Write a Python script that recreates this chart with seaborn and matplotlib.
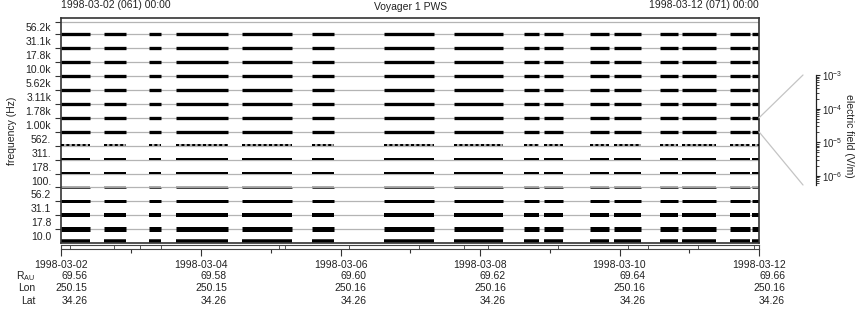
import numpy as np
import pandas as pd
import matplotlib
matplotlib.use("Agg")
import matplotlib.pyplot as plt
import seaborn as sns
from matplotlib.patches import ConnectionPatch
from matplotlib.transforms import blended_transform_factory, offset_copy
from matplotlib.ticker import FixedLocator, NullFormatter, LogLocator, FuncFormatter

# ---------------- data ----------------
freq_labels = ['10.0', '17.8', '31.1', '56.2', '100.', '178.', '311.', '562.',
               '1.00k', '1.78k', '3.11k', '5.62k', '10.0k', '17.8k', '31.1k', '56.2k']
# relative signal level per channel (bottom -> top), drawn as bar thickness
channel_level = [3.5, 5.0, 4.0, 3.0, 2.0, 2.0, 2.0, 2.0,
                 3.3, 3.3, 3.3, 3.3, 3.3, 3.3, 3.3, 3.3]
# data coverage intervals, days after 1998-03-02 00:00
seg_start = [0.0, 0.607, 1.248, 1.636, 2.582, 3.587, 4.620, 5.624,
             6.628, 6.920, 7.575, 7.924, 8.584, 8.899, 9.584, 9.904]
seg_end = [0.41, 0.928, 1.420, 2.392, 3.300, 3.913, 5.337, 6.323,
           6.839, 7.184, 7.848, 8.303, 8.838, 9.383, 9.871, 10.0]
# marks in the strip below the panel (days)
gap_marks = [0.125, 0.75, 1.13, 1.425, 3.113, 3.204, 4.122, 5.126,
             5.772, 6.116, 7.12, 8.125, 8.412, 9.129, 9.933]
tick_days = [0, 2, 4, 6, 8, 10]
tick_dates = ['1998-03-02', '1998-03-04', '1998-03-06', '1998-03-08', '1998-03-10', '1998-03-12']
r_au = ['69.56', '69.58', '69.60', '69.62', '69.64', '69.66']
lon = ['250.15', '250.15', '250.16', '250.16', '250.16', '250.16']
lat = ['34.26', '34.26', '34.26', '34.26', '34.26', '34.26']
cbar_range = [10**-6.27, 1e-3]

# ---------------- style ----------------
sns.set_theme(style="white")
plt.rcParams['font.family'] = ['Liberation Sans', 'DejaVu Sans']
plt.rcParams['mathtext.fontset'] = 'custom'
plt.rcParams['mathtext.rm'] = 'Liberation Sans'
plt.rcParams['mathtext.it'] = 'Liberation Sans'
FS = 7.5
TXT = '#222222'
W, H = 860, 320
fig = plt.figure(figsize=(W / 100, H / 100), dpi=100)

def box(x0, y0, x1, y1):
    return [x0 / W, 1 - y1 / H, (x1 - x0) / W, (y1 - y0) / H]

ax = fig.add_axes(box(61.5, 18.3, 759, 243.2))
ax.set_xlim(0, 10)
ax.set_ylim(0, 16.15)
px_per_unit = 13.93

# gray baselines
base_y = list(range(1, 16)) + [15.86]
ax.hlines(base_y, 0, 10, color='#b4b4b4', lw=0.9, zorder=1)

# bars
rows = []
for i, lev in enumerate(channel_level):
    for s, e in zip(seg_start, seg_end):
        rows.append(dict(ch=i, start=s, end=e, level=lev))
df = pd.DataFrame(rows)
for i, g in df.groupby('ch'):
    lev = g['level'].iloc[0]
    half = lev / 2 / px_per_unit
    yc = max(i + 0.02, half)
    lw = lev * 0.72
    n = len(g)
    if freq_labels[i] == '562.':
        ax.hlines([yc] * n, g['start'], g['end'], color='#aaaaaa', lw=lw,
                  capstyle='butt', zorder=2)
        ax.hlines([yc] * n, g['start'], g['end'], color='black', lw=lw,
                  capstyle='butt', linestyles=(0, (1.5, 1.2)), zorder=3)
    elif freq_labels[i] == '100.':
        ax.hlines([yc + 0.05] * n, g['start'], g['end'], color='#9a9a9a', lw=lw * 0.8,
                  capstyle='butt', zorder=2)
        ax.hlines([yc - 0.05] * n, g['start'], g['end'], color='#444444', lw=lw * 0.5,
                  capstyle='butt', zorder=3)
    else:
        ax.hlines([yc] * n, g['start'], g['end'], color='black', lw=lw,
                  capstyle='butt', zorder=2)

for sp in ax.spines.values():
    sp.set_color('#333333')
    sp.set_linewidth(1.2)
ax.set_xticks([])
ax.yaxis.set_major_locator(FixedLocator(base_y))
ax.yaxis.set_major_formatter(NullFormatter())
ax.yaxis.set_minor_locator(FixedLocator([i + 0.5 for i in range(16)]))
ax.yaxis.set_minor_formatter(FuncFormatter(lambda v, p: freq_labels[int(v)]))
ax.tick_params(axis='y', which='major', left=True, length=4.3, width=0.8, color='#333333', direction='out')
ax.tick_params(axis='y', which='minor', left=True, length=0, pad=7.5, labelsize=FS, labelcolor=TXT)
ax.set_ylabel('frequency (Hz)', fontsize=FS, color=TXT)
ax.yaxis.set_label_coords(-(61.5 - 17) / (759 - 61.5), 0.5)

# strip below
sx = fig.add_axes(box(61.5, 244.5, 759, 248.5))
sx.set_xlim(0, 10)
sx.set_ylim(0, 1)
sx.vlines(gap_marks, 0, 1, color='#555555', lw=0.7)
for sp in sx.spines.values():
    sp.set_color('#444444')
    sp.set_linewidth(0.8)
sx.set_yticks([])
sx.xaxis.set_major_locator(FixedLocator(tick_days))
sx.xaxis.set_minor_locator(FixedLocator([1, 3, 5, 7, 9]))
sx.xaxis.set_major_formatter(NullFormatter())
sx.tick_params(axis='x', which='major', bottom=True, length=5, width=0.8, color='#333333', direction='out')
sx.tick_params(axis='x', which='minor', bottom=True, length=3, width=0.8, color='#333333', direction='out')

# text rows under the axis
tr = blended_transform_factory(sx.transData, fig.transFigure)
tr_r = offset_copy(tr, fig=fig, x=26, y=0, units='dots')
row_y = [265, 276, 288, 300.5]
for d, txt in zip(tick_days, tick_dates):
    fig.text(d, 1 - row_y[0] / H, txt, transform=tr, ha='center', va='center', fontsize=FS, color=TXT)
for vals, yy in zip([r_au, lon, lat], row_y[1:]):
    for d, txt in zip(tick_days, vals):
        fig.text(d, 1 - yy / H, txt, transform=tr_r, ha='right', va='center', fontsize=FS, color=TXT)
for lab, yy in zip([r'R$_{\mathrm{AU}}$', 'Lon', 'Lat'], row_y[1:]):
    fig.text(35 / W, 1 - yy / H, lab, ha='right', va='center', fontsize=FS, color=TXT)

# header
fig.text(61 / W, 1 - 5.5 / H, '1998-03-02 (061) 00:00', ha='left', va='center', fontsize=FS, color=TXT)
fig.text(758.5 / W, 1 - 5.5 / H, '1998-03-12 (071) 00:00', ha='right', va='center', fontsize=FS, color=TXT)
fig.text(411 / W, 1 - 7.5 / H, 'Voyager 1 PWS', ha='center', va='center', fontsize=FS, color=TXT)

# colour scale
cax = fig.add_axes(box(803, 75, 815.7, 185))
cax.set_yscale('log')
cax.set_ylim(*cbar_range)
cax.set_xticks([])
for k in ['left', 'top', 'bottom']:
    cax.spines[k].set_visible(False)
cax.spines['right'].set_color('#222222')
cax.spines['right'].set_linewidth(0.9)
cax.yaxis.tick_right()
cax.yaxis.set_major_locator(LogLocator(base=10, numticks=10))
cax.yaxis.set_minor_locator(LogLocator(base=10, subs=np.arange(2, 10), numticks=10))
cax.yaxis.set_major_formatter(FuncFormatter(lambda v, p: r'$10^{%d}$' % round(np.log10(v))))
cax.tick_params(axis='y', which='major', right=True, left=False, length=3.2, width=0.8,
                color='#222222', labelsize=7, labelcolor=TXT, pad=1.5)
cax.tick_params(axis='y', which='minor', right=True, left=False, length=1.8, width=0.6, color='#222222')
cax.yaxis.set_label_position('right')
cax.set_ylabel('electric field (V/m)', rotation=270, fontsize=FS, color=TXT, va='center')
cax.yaxis.set_label_coords(1 + (849 - 815.7) / 12.7, 0.45)

for yA, yB in [(9, 1), (8, 0)]:
    con = ConnectionPatch(xyA=(10, yA), coordsA=ax.transData, xyB=(0, yB), coordsB=cax.transAxes,
                          color='#c4c4c4', lw=0.9)
    fig.add_artist(con)

fig.savefig('out.png', dpi=100)
